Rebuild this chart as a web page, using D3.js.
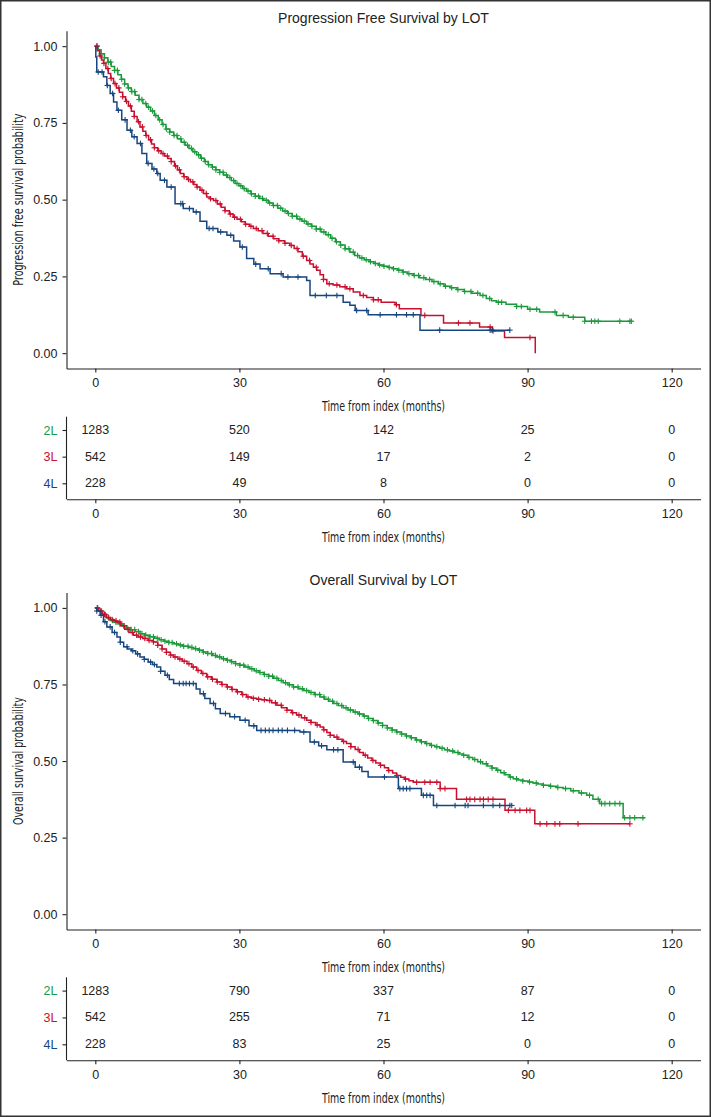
<!DOCTYPE html>
<html><head><meta charset="utf-8">
<script src="https://cdn.jsdelivr.net/npm/d3@7"></script>
<style>body{margin:0;background:#fff}svg{display:block}</style>
</head><body><svg id="c" width="711" height="1117"></svg>
<script>
// ---------------- data ----------------
const groups = ["2L", "3L", "4L"];
const groupColors = ["#1A9A3A", "#C8102E", "#17467F"];
const timeTicks = [0, 30, 60, 90, 120];
const survTicks = [0, 0.25, 0.5, 0.75, 1];
const titles = ["Progression Free Survival by LOT", "Overall Survival by LOT"];
const yTitles = ["Progression free survival probability", "Overall survival probability"];
const xTitle = "Time from index (months)";

// numbers at risk
const pfsRisk2L = [1283, 520, 142, 25, 0];
const pfsRisk3L = [542, 149, 17, 2, 0];
const pfsRisk4L = [228, 49, 8, 0, 0];
const osRisk2L = [1283, 790, 337, 87, 0];
const osRisk3L = [542, 255, 71, 12, 0];
const osRisk4L = [228, 83, 25, 0, 0];

// KM step points [month, survival]
const pfsSteps2L = [[0,1],[0.6,0.988],[1.2,0.975],[1.9,0.962],[2.6,0.948],[3.3,0.934],[4,0.921],[4.7,0.907],[5.4,0.892],[6.1,0.877],[6.8,0.864],[7.5,0.852],[8.3,0.84],[9.1,0.826],[9.9,0.813],[10.7,0.801],[11.5,0.789],[12.3,0.774],[13.1,0.76],[13.9,0.745],[14.7,0.73],[15.5,0.72],[16.3,0.709],[17.1,0.698],[17.9,0.687],[18.7,0.677],[19.5,0.667],[20.3,0.656],[21.1,0.646],[21.9,0.635],[22.7,0.624],[23.5,0.614],[24.3,0.606],[25.1,0.597],[25.9,0.589],[26.7,0.58],[27.5,0.572],[28.3,0.562],[29.1,0.553],[29.9,0.545],[30.7,0.536],[31.5,0.528],[32.4,0.519],[33.3,0.511],[34.2,0.504],[35,0.498],[36,0.489],[37,0.481],[38,0.472],[39,0.463],[40,0.455],[41,0.446],[42,0.437],[43,0.43],[44,0.421],[45,0.413],[46,0.404],[47,0.395],[48,0.386],[49,0.374],[50,0.363],[51,0.352],[52,0.34],[53,0.329],[54,0.318],[55,0.31],[56,0.304],[57,0.298],[58,0.292],[59,0.287],[60,0.283],[61,0.279],[62,0.275],[63,0.27],[64,0.264],[65,0.259],[66.2,0.253],[67.5,0.246],[68.8,0.24],[70.1,0.233],[71.4,0.226],[72.6,0.218],[73.9,0.213],[75.3,0.207],[76.8,0.201],[78.4,0.195],[80.1,0.188],[81.4,0.178],[82.5,0.171],[83.5,0.166],[85.5,0.159],[87.7,0.152],[90,0.143],[92.5,0.134],[96,0.123],[98.5,0.117],[101.9,0.104],[111.6,0.104]];
const pfsSteps3L = [[0,1],[0.4,0.985],[0.9,0.968],[1.3,0.955],[1.7,0.944],[2.2,0.927],[2.7,0.911],[3.2,0.895],[3.8,0.878],[4.4,0.864],[5,0.85],[5.7,0.835],[6.3,0.82],[6.9,0.805],[7.5,0.788],[8.1,0.771],[8.7,0.754],[9.3,0.737],[9.9,0.723],[10.5,0.709],[11.1,0.695],[11.7,0.681],[12.3,0.669],[13,0.659],[13.7,0.65],[14.4,0.642],[15.1,0.634],[15.8,0.624],[16.5,0.61],[17.1,0.597],[17.7,0.585],[18.4,0.575],[19.1,0.566],[19.8,0.558],[20.5,0.549],[21.1,0.541],[21.8,0.531],[22.5,0.52],[23.2,0.509],[23.9,0.503],[24.6,0.497],[25.4,0.486],[26.2,0.475],[27,0.464],[27.9,0.453],[28.7,0.443],[29.5,0.436],[30.4,0.428],[31.2,0.42],[32.1,0.413],[32.9,0.406],[33.9,0.399],[34.9,0.39],[36,0.381],[37.1,0.373],[38.2,0.366],[39.4,0.358],[40.5,0.351],[41.4,0.341],[42.2,0.33],[43.1,0.316],[44,0.302],[44.7,0.29],[45.4,0.28],[46.1,0.27],[46.8,0.255],[47.5,0.24],[48.2,0.226],[49.5,0.222],[50.9,0.216],[52.3,0.21],[53.7,0.199],[55.1,0.188],[56.5,0.181],[57.9,0.174],[59.5,0.166],[62.4,0.158],[63.3,0.145],[67.8,0.123],[72.5,0.098],[80,0.085],[82.7,0.072],[85.2,0.051],[91.6,0]];
const pfsSteps4L = [[0,1],[0.1,0.965],[0.3,0.916],[1.7,0.9],[2.4,0.872],[3.1,0.846],[3.8,0.818],[4.5,0.791],[5.5,0.76],[6.6,0.726],[7.6,0.705],[8.7,0.683],[9.7,0.65],[10.7,0.618],[11.8,0.6],[12.8,0.585],[13.5,0.563],[14.9,0.541],[16.6,0.487],[18.3,0.471],[20.4,0.46],[21.8,0.43],[23.2,0.406],[25.5,0.395],[27.4,0.384],[28.8,0.365],[30.1,0.346],[31.5,0.308],[33,0.29],[34.3,0.275],[36.4,0.259],[39.1,0.248],[44,0.237],[44.7,0.188],[51.6,0.166],[53,0.156],[54.1,0.139],[56.8,0.125],[67.6,0.075],[86.3,0.075]];
const osSteps2L = [[0,1],[0.7,0.99],[1.5,0.978],[2.3,0.968],[3.1,0.959],[3.9,0.953],[4.7,0.948],[5.6,0.942],[6.5,0.935],[7.4,0.929],[8.3,0.923],[9.3,0.916],[10.3,0.911],[11.3,0.906],[12.3,0.901],[13.3,0.896],[14.3,0.891],[15.3,0.887],[16.3,0.883],[17.3,0.879],[18.3,0.875],[19.4,0.871],[20.4,0.867],[21.4,0.862],[22.4,0.856],[23.4,0.851],[24.4,0.845],[25.3,0.84],[26.3,0.834],[27.3,0.829],[28.3,0.824],[29.2,0.818],[30.1,0.813],[31.1,0.807],[32.1,0.801],[33.1,0.795],[34.1,0.789],[35.1,0.783],[36.1,0.777],[37.1,0.77],[38.1,0.763],[39.1,0.756],[40.1,0.749],[41.2,0.742],[42.3,0.736],[43.4,0.73],[44.5,0.724],[45.6,0.717],[46.8,0.709],[47.7,0.702],[48.6,0.695],[49.6,0.688],[50.6,0.681],[51.6,0.674],[52.6,0.667],[53.7,0.66],[54.7,0.654],[55.8,0.647],[56.8,0.639],[57.8,0.632],[58.8,0.624],[59.8,0.616],[60.8,0.608],[61.8,0.601],[62.7,0.595],[63.7,0.588],[64.7,0.582],[65.7,0.576],[66.7,0.569],[67.7,0.563],[68.7,0.557],[69.7,0.551],[70.7,0.547],[71.7,0.542],[72.7,0.537],[73.7,0.533],[74.7,0.528],[75.7,0.523],[76.6,0.519],[77.6,0.512],[78.6,0.505],[79.6,0.498],[80.6,0.491],[81.6,0.484],[82.6,0.477],[83.5,0.47],[84.4,0.462],[85.3,0.455],[86.2,0.448],[87,0.442],[88,0.438],[89,0.435],[90.1,0.432],[91.1,0.428],[92.1,0.425],[93.2,0.421],[94.6,0.418],[96,0.414],[97.4,0.41],[99,0.403],[100.7,0.396],[102.3,0.388],[103.6,0.375],[105,0.361],[109.9,0.315],[114.4,0.315]];
const osSteps3L = [[0,1],[0.7,0.99],[1.5,0.979],[2.3,0.969],[3.1,0.962],[3.8,0.958],[4.5,0.954],[5.3,0.942],[6.1,0.93],[7,0.92],[7.9,0.911],[8.9,0.905],[9.9,0.9],[11,0.894],[12.1,0.889],[13,0.878],[13.9,0.866],[14.8,0.855],[15.6,0.846],[16.3,0.84],[17.2,0.833],[18.1,0.826],[19.1,0.818],[20.1,0.807],[21.1,0.796],[22.1,0.786],[23.2,0.775],[24.2,0.767],[25.3,0.758],[26.3,0.75],[27.4,0.742],[28.4,0.734],[29.4,0.726],[30.5,0.717],[31.5,0.709],[32.5,0.705],[33.6,0.702],[34.6,0.7],[35.7,0.698],[36.7,0.69],[37.8,0.682],[38.8,0.674],[39.9,0.666],[40.9,0.658],[41.9,0.65],[42.9,0.641],[44,0.633],[44.9,0.626],[45.9,0.618],[46.8,0.611],[47.5,0.602],[48.2,0.593],[48.9,0.584],[49.7,0.578],[50.5,0.571],[51.4,0.564],[52.3,0.557],[53.2,0.547],[54.1,0.538],[55,0.528],[55.8,0.519],[56.7,0.51],[57.6,0.502],[58.4,0.494],[59.3,0.486],[60.2,0.478],[61,0.469],[61.9,0.461],[62.7,0.453],[63.6,0.447],[64.4,0.441],[65.3,0.436],[66.2,0.431],[71.8,0.41],[75.2,0.375],[85.3,0.339],[91.5,0.295],[111.3,0.295]];
const osSteps4L = [[0,1],[0.3,0.99],[1,0.976],[1.7,0.955],[2.4,0.938],[3.5,0.92],[4.5,0.905],[5.2,0.888],[5.9,0.873],[6.7,0.866],[7.5,0.86],[8.4,0.85],[9.3,0.84],[10.2,0.832],[11,0.823],[11.9,0.815],[12.8,0.807],[13.6,0.793],[14.5,0.78],[15.4,0.766],[16.3,0.753],[20.1,0.753],[21,0.735],[21.8,0.72],[22.8,0.704],[23.9,0.688],[25,0.671],[26,0.655],[28,0.645],[30.1,0.633],[32,0.615],[33.6,0.6],[42.6,0.595],[44.7,0.562],[46.5,0.55],[48.2,0.537],[51.6,0.497],[54.1,0.48],[55.5,0.466],[56.8,0.448],[63.1,0.41],[67.9,0.388],[70.4,0.355],[86.7,0.355]];

// censoring times (months)
const pfsCens2L = [0.4,1.2,1.9,2.7,3.2,4.0,4.6,5.5,6.1,6.9,7.6,8.2,9.1,9.7,10.5,11.1,11.9,12.6,13.4,14.1,14.8,15.5,16.4,17.0,17.8,18.5,19.2,20.0,20.7,21.5,22.1,22.9,23.6,24.4,25.1,25.9,26.6,27.3,28.0,28.8,29.5,30.3,31.0,31.8,32.5,33.3,34.0,34.8,35.6,36.3,37.1,37.9,38.6,39.5,40.2,41.0,41.9,42.6,43.5,44.3,45.1,46.0,46.8,47.6,48.5,49.3,50.2,51.1,52.0,52.8,53.7,54.6,55.5,56.4,57.3,58.3,59.2,60.1,61.2,62.1,63.2,64.1,65.3,66.4,67.3,68.4,69.6,70.5,71.8,72.9,74.2,75.5,76.9,78.2,79.6,80.7,82.1,83.9,84.6,87.7,88.7,90.5,91.9,95.7,97.4,99.5,101.9,103.3,104.0,104.7,109.2,111.3,111.6];
const pfsCens3L = [0.3,1.0,1.8,2.6,3.3,4.1,4.9,5.7,6.5,7.3,8.1,9.0,9.8,10.6,11.5,12.3,13.2,14.1,15.0,15.8,16.7,17.5,18.5,19.4,20.3,21.2,22.2,23.1,24.0,25.1,26.0,27.0,28.1,29.0,30.2,31.3,32.4,33.5,34.7,35.8,37.0,38.2,39.5,40.8,42.0,43.3,44.6,46.0,47.5,48.7,50.3,52.0,53.0,55.8,57.9,58.9,62.7,68.6,75.6,78.0,82.2,82.8,90.5];
const pfsCens4L = [0.6,1.4,2.5,3.6,4.8,6.2,7.3,8.1,9.4,11.0,12.2,13.0,14.4,15.8,17.8,18.2,19.6,21.0,23.7,24.5,26.1,28.2,30.6,33.4,36.0,38.7,40.1,42.2,45.8,48.1,50.3,54.4,56.5,59.3,62.7,64.8,66.2,71.7,82.2,82.6,86.3];
const osCens2L = [0.5,1.3,2.1,2.8,3.6,4.3,5.1,5.9,6.6,7.4,8.2,9.0,9.7,10.5,11.4,12.1,12.9,13.7,14.5,15.3,16.0,16.9,17.7,18.4,19.3,20.1,20.9,21.7,22.5,23.4,24.2,25.0,25.9,26.7,27.5,28.4,29.2,30.1,30.9,31.8,32.6,33.5,34.3,35.2,36.1,36.9,37.8,38.7,39.6,40.4,41.3,42.2,43.1,44.0,44.9,45.8,46.7,47.6,48.5,49.4,50.3,51.3,52.2,53.1,54.1,55.0,56.0,56.9,57.9,58.9,59.8,60.8,61.8,62.8,63.8,64.8,65.8,66.9,67.9,69.0,70.0,71.1,72.2,73.3,74.4,75.5,76.7,77.8,79.0,80.2,81.4,82.6,83.8,85.1,86.4,87.7,89.0,90.4,91.8,93.3,94.8,96.3,97.9,99.5,101.2,102.9,104.7,105.4,106.1,107.1,108.2,109.2,110.2,111.3,112.3,114.0];
const osCens3L = [0.4,1.1,1.9,2.7,3.5,4.3,5.1,6.0,6.8,7.7,8.6,9.4,10.3,11.2,12.1,13.0,13.9,14.8,15.7,16.6,17.6,18.5,19.5,20.4,21.4,22.4,23.4,24.4,25.4,26.4,27.5,28.5,29.6,30.7,31.8,32.9,34.0,35.2,36.3,37.5,38.7,39.9,41.1,42.4,43.6,44.9,46.2,47.6,48.9,50.3,51.7,53.2,54.7,56.2,57.8,59.4,61.1,62.8,64.6,66.9,68.6,69.7,71.1,71.8,72.8,77.3,78.0,79.0,80.1,80.8,81.8,82.8,86.0,87.4,88.4,89.8,90.5,92.6,94.0,95.7,96.7,100.5,111.3];
const osCens4L = [0.3,1.2,2.0,3.1,4.0,5.2,6.6,7.8,8.8,10.2,11.5,12.3,13.6,15.0,17.5,18.3,18.9,19.6,20.4,22.5,24.6,27.1,29.0,31.2,33.0,34.5,35.4,36.2,37.0,38.1,38.9,40.0,41.5,43.4,45.6,47.1,49.6,50.5,53.7,55.0,60.2,63.4,64.1,64.8,65.5,68.3,69.0,69.7,71.1,74.9,77.0,77.6,80.8,82.8,84.2,86.3,86.7];

// ---------------- drawing ----------------
const svg = d3.select("#c");
svg.append("rect").attr("width", 711).attr("height", 1117).attr("fill", "#fff");
svg.append("rect").attr("x", 0.75).attr("y", 0.75).attr("width", 709.5).attr("height", 1115.5)
  .attr("fill", "none").attr("stroke", "#333").attr("stroke-width", 1.5);

const FONT = "'Liberation Sans', Arial, Helvetica, sans-serif";
const NARROW = "'Liberation Sans Narrow', 'DejaVu Sans Condensed', 'Liberation Sans', sans-serif";
const INK = "#222";

const x = d3.scaleLinear().domain([-6, 126]).range([66.5, 700.5]);

function stepValue(steps, t) {
  let v = steps[0][1];
  for (const [tt, s] of steps) if (tt <= t) v = s;
  return v;
}

function styleAxis(g) {
  g.selectAll(".domain").attr("stroke", INK).attr("stroke-width", 1.1);
  g.selectAll(".tick line").attr("stroke", INK).attr("stroke-width", 1.1);
  g.selectAll(".tick text").attr("fill", INK).style("font-family", FONT).style("font-size", "12.5px");
}

function drawKM(cfg) {
  const y = d3.scaleLinear().domain([-0.05, 1.05]).range([cfg.yBottom, cfg.yTop]);
  const g = svg.append("g");

  g.append("text").attr("x", 383.5).attr("y", cfg.titleY).attr("text-anchor", "middle")
    .attr("dominant-baseline", "central").style("font-family", FONT).style("font-size", "14px")
    .attr("fill", INK).text(cfg.title);

  const line = d3.line().x(d => x(d[0])).y(d => y(d[1])).curve(d3.curveStepAfter);
  cfg.series.forEach((s, i) => {
    g.append("path").datum(s.steps).attr("d", line).attr("fill", "none")
      .attr("stroke", groupColors[i]).attr("stroke-width", 1.5);
    const cg = g.append("g").attr("stroke", groupColors[i]).attr("stroke-width", 1.1);
    s.cens.forEach(t => {
      const cx = x(t), cy = y(stepValue(s.steps, t));
      cg.append("line").attr("x1", cx - 2.8).attr("x2", cx + 2.8).attr("y1", cy).attr("y2", cy);
      cg.append("line").attr("x1", cx).attr("x2", cx).attr("y1", cy - 2.8).attr("y2", cy + 2.8);
    });
  });

  const ya = g.append("g").attr("transform", "translate(66.5,0)")
    .call(d3.axisLeft(y).tickValues(survTicks).tickFormat(d3.format(".2f")).tickSize(4).tickSizeOuter(0).tickPadding(5));
  styleAxis(ya);
  const xa = g.append("g").attr("transform", `translate(0,${cfg.yBottom})`)
    .call(d3.axisBottom(x).tickValues(timeTicks).tickSize(4).tickSizeOuter(0).tickPadding(6));
  styleAxis(xa);

  g.append("text").attr("x", 383.5).attr("y", cfg.yBottom + 37.5).attr("text-anchor", "middle")
    .attr("dominant-baseline", "central").style("font-family", NARROW).style("font-size", "14px")
    .attr("textLength", 123).attr("lengthAdjust", "spacingAndGlyphs").attr("fill", INK).text(xTitle);

  const yc = (cfg.yTop + cfg.yBottom) / 2;
  g.append("text").attr("transform", `translate(18,${yc}) rotate(-90)`).attr("text-anchor", "middle")
    .attr("dominant-baseline", "central").style("font-family", NARROW).style("font-size", "13.5px")
    .attr("textLength", cfg.yTitleLen).attr("lengthAdjust", "spacingAndGlyphs").attr("fill", INK).text(cfg.yTitle);

  // risk table
  const r = cfg.risk;
  const yr = d3.scalePoint().domain(groups).range([r.top + 13.3, r.bottom - 16]);
  const rg = svg.append("g");
  rg.append("line").attr("x1", 66.5).attr("x2", 66.5).attr("y1", r.top).attr("y2", r.bottom)
    .attr("stroke", INK).attr("stroke-width", 1.1);
  const ra = rg.append("g").attr("transform", "translate(66.5,0)")
    .call(d3.axisLeft(yr).tickSize(4).tickSizeOuter(0).tickPadding(5));
  ra.select(".domain").remove();
  styleAxis(ra);
  ra.selectAll(".tick text").attr("fill", d => groupColors[groups.indexOf(d)]);
  const rxa = rg.append("g").attr("transform", `translate(0,${r.bottom})`)
    .call(d3.axisBottom(x).tickValues(timeTicks).tickSize(4).tickSizeOuter(0).tickPadding(6));
  styleAxis(rxa);
  cfg.series.forEach((s, i) => {
    rg.selectAll(null).data(s.risk).join("text")
      .attr("x", (d, j) => x(timeTicks[j])).attr("y", yr(groups[i]))
      .attr("text-anchor", "middle").attr("dominant-baseline", "central")
      .style("font-family", FONT).style("font-size", "12.5px").attr("fill", INK).text(d => d);
  });
  rg.append("text").attr("x", 383.5).attr("y", r.bottom + 37.5).attr("text-anchor", "middle")
    .attr("dominant-baseline", "central").style("font-family", NARROW).style("font-size", "14px")
    .attr("textLength", 123).attr("lengthAdjust", "spacingAndGlyphs").attr("fill", INK).text(xTitle);
}

drawKM({
  title: titles[0], titleY: 18, yTop: 30.8, yBottom: 368.5, yTitle: yTitles[0], yTitleLen: 172,
  series: [
    {steps: pfsSteps2L, cens: pfsCens2L, risk: pfsRisk2L},
    {steps: pfsSteps3L, cens: pfsCens3L, risk: pfsRisk3L},
    {steps: pfsSteps4L, cens: pfsCens4L, risk: pfsRisk4L}
  ],
  risk: {top: 416.7, bottom: 499.3}
});
drawKM({
  title: titles[1], titleY: 579.5, yTop: 592.6, yBottom: 929.5, yTitle: yTitles[1], yTitleLen: 128,
  series: [
    {steps: osSteps2L, cens: osCens2L, risk: osRisk2L},
    {steps: osSteps3L, cens: osCens3L, risk: osRisk3L},
    {steps: osSteps4L, cens: osCens4L, risk: osRisk4L}
  ],
  risk: {top: 977.3, bottom: 1060.3}
});
</script>
</body></html>
